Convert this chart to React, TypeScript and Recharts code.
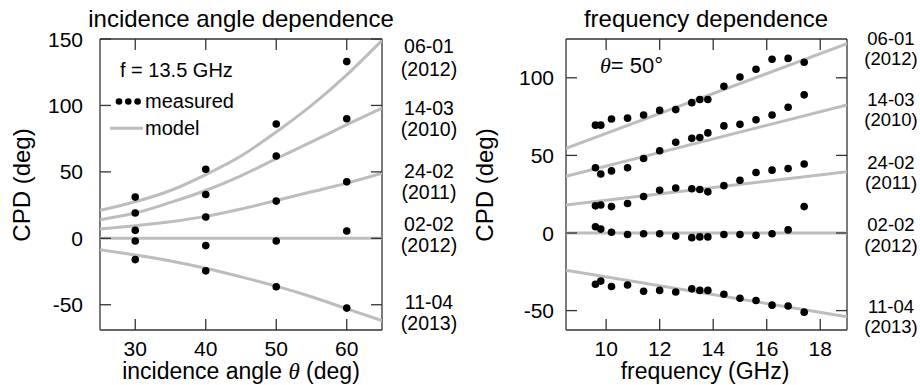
import React from "react";
import { ScatterChart, Scatter, XAxis, YAxis } from "recharts";

// ---- incidence angle dependence (f = 13.5 GHz) ----
const angles = [30, 40, 50, 60];
const angMeas0601 = [31, 52, 86, 133];
const angMeas1403 = [19, 33, 62, 90];
const angMeas2402 = [6, 16, 28, 42.5];
const angMeas0202 = [-2, -5.5, -2, 5.5];
const angMeas1104 = [-16, -24.5, -36.5, -52.5];

const modelAngles = [25, 30, 35, 40, 45, 50, 55, 60, 65];
const angModel0601 = [21, 27.5, 36, 48, 62, 80, 100, 123, 149];
const angModel1403 = [14, 19, 27, 36, 47, 60, 72.5, 85.5, 98];
const angModel2402 = [7, 9.5, 12.5, 16.5, 22, 28.5, 35, 41.5, 49];
const angModel0202 = [0, 0, 0, 0, 0, 0, 0, 0, 0];
const angModel1104 = [-8.5, -12.5, -17, -22.5, -29, -36, -44, -53, -62];

const angleTicks = [30, 40, 50, 60];
const angleCpdTicks = [-50, 0, 50, 100, 150];

// ---- frequency dependence (theta = 50) ----
const freqs = [9.6, 9.8, 10.2, 10.8, 11.4, 12.0, 12.6, 13.2, 13.5, 13.8, 14.4, 15.0, 15.6, 16.2, 16.8, 17.4];
const freqMeas0601 = [69.5, 69.5, 73.5, 74, 76, 79, 79.5, 84, 86, 86, 94.5, 100.5, 105.5, 112, 112.5, 110];
const freqMeas1403 = [42, 38, 40, 42, 48, 53, 58.5, 61, 61.5, 64.5, 69, 70, 73, 76, 81, 89];
const freqMeas2402 = [17.5, 18, 17, 19, 23.5, 27.5, 29, 28.5, 28, 26.5, 30.5, 34, 39, 40.5, 41.5, 44.5];
const freqMeas0202 = [4, 2.5, 0.5, -1, -0.5, -0.5, -2, -3, -2.5, -2.5, -1, -1, -1.5, -0.5, 2, 17];
const freqMeas1104 = [-33, -31, -34.5, -33.5, -37.5, -37, -38, -36, -37, -37, -39.5, -42, -43.5, -46.5, -47, -51];

const modelFreqs = [8.5, 19];
const freqModel0601 = [54.5, 122];
const freqModel1403 = [36.5, 82.5];
const freqModel2402 = [18, 39.5];
const freqModel0202 = [0, 0];
const freqModel1104 = [-24, -54];

const freqTicks = [10, 12, 14, 16, 18];
const freqCpdTicks = [-50, 0, 50, 100];

const dates = ["06-01", "14-03", "24-02", "02-02", "11-04"];
const years = ["(2012)", "(2010)", "(2011)", "(2012)", "(2013)"];

const FONT = "'Liberation Sans', Arial, Helvetica, sans-serif";
const FRAME = "#333333";
const GRAY = "#bdbdbd";

const pts = (xs: number[], ys: number[]) => xs.map((x, i) => ({ x, y: ys[i] }));

const Dot = (p: any) => <circle cx={p.cx} cy={p.cy} r={3.8} fill="#000" />;
const NoDot = () => <g />;

type Box = { top: number; right: number; bottom: number; left: number };

type PanelProps = {
  xDomain: [number, number];
  yDomain: [number, number];
  xTicks: number[];
  yTicks: number[];
  models: { x: number; y: number }[][];
  measured: { x: number; y: number }[][];
  plot: Box;
  yGap: number;
};

const axisLine = { stroke: FRAME, strokeWidth: 1.3 };

const W = 460;
const H = 385;
const XH = 30;
const YW = 60;
const SIDE = 1;
const TICK = 11;

const LEFT_PLOT = { top: 39, right: 78, bottom: 55, left: 100 };
const RIGHT_PLOT = { top: 39, right: 73, bottom: 55, left: 106 };
const LEFT_X: [number, number] = [25, 65];
const LEFT_Y: [number, number] = [-69, 150];
const RIGHT_X: [number, number] = [8.5, 19];
const RIGHT_Y: [number, number] = [-62.5, 125];

const Panel = ({ xDomain, yDomain, xTicks, yTicks, models, measured, plot, yGap }: PanelProps) => {
  const xCommon = { type: "number" as const, domain: xDomain, ticks: xTicks, interval: 0 as const, allowDataOverflow: true };
  const yCommon = { type: "number" as const, domain: yDomain, ticks: yTicks, interval: 0 as const, allowDataOverflow: true };
  return (
    <ScatterChart
      width={W}
      height={H}
      margin={{
        top: plot.top - SIDE,
        right: plot.right - SIDE,
        bottom: plot.bottom - XH,
        left: plot.left - YW,
      }}
    >
      <XAxis
        dataKey="x"
        {...xCommon}
        height={XH}
        tickSize={0}
        axisLine={axisLine}
        tickLine={false}
        tick={(p: any) => (
          <text x={p.x} y={p.y + 23.5} textAnchor="middle" fontSize={21} fontFamily={FONT} fill="#000">
            {p.payload.value}
          </text>
        )}
      />
      <YAxis
        dataKey="y"
        {...yCommon}
        width={YW}
        tickSize={0}
        axisLine={axisLine}
        tickLine={false}
        tick={(p: any) => (
          <text x={p.x - yGap} y={p.y + 7.5} textAnchor="end" fontSize={21} fontFamily={FONT} fill="#000">
            {p.payload.value}
          </text>
        )}
      />
      <XAxis xAxisId="top" orientation="top" {...xCommon} height={SIDE} tick={false} tickLine={false} axisLine={axisLine} />
      <YAxis yAxisId="right" orientation="right" {...yCommon} width={SIDE} tick={false} tickLine={false} axisLine={axisLine} />
      {models.map((d, i) => (
        <Scatter
          key={"m" + i}
          data={d}
          line={{ stroke: GRAY, strokeWidth: 3 }}
          lineJointType="monotoneX"
          shape={NoDot}
          isAnimationActive={false}
        />
      ))}
      {measured.map((d, i) => (
        <Scatter key={"p" + i} data={d} shape={Dot} isAnimationActive={false} />
      ))}
    </ScatterChart>
  );
};

// inward frame ticks (axis decoration only) for a panel placed at page offset ox
const FrameTicks = ({ ox, plot, xd, yd, xt, yt }: { ox: number; plot: Box; xd: [number, number]; yd: [number, number]; xt: number[]; yt: number[] }) => {
  const l = ox + plot.left;
  const r = ox + W - plot.right;
  const t = plot.top;
  const b = H - plot.bottom;
  const sx = (v: number) => l + ((v - xd[0]) / (xd[1] - xd[0])) * (r - l);
  const sy = (v: number) => b - ((v - yd[0]) / (yd[1] - yd[0])) * (b - t);
  return (
    <g stroke={FRAME} strokeWidth={1.3}>
      {xt.map((v) => (
        <g key={"x" + v}>
          <line x1={sx(v)} x2={sx(v)} y1={b} y2={b - TICK} />
          <line x1={sx(v)} x2={sx(v)} y1={t} y2={t + TICK} />
        </g>
      ))}
      {yt.map((v) => (
        <g key={"y" + v}>
          <line x1={l} x2={l + TICK} y1={sy(v)} y2={sy(v)} />
          <line x1={r} x2={r - TICK} y1={sy(v)} y2={sy(v)} />
        </g>
      ))}
    </g>
  );
};

const leftDateY = [53.3, 75.5, 114.5, 136, 178, 199, 231, 252, 309, 330];
const rightDateY = [45, 65, 105.5, 125.5, 169, 189, 231, 251.5, 313, 333];

export default function App() {
  return (
    <div style={{ position: "absolute", left: 0, top: 0, width: 920, height: 385, background: "#fff", fontFamily: FONT }}>
      <div style={{ position: "absolute", left: 0, top: 0 }}>
        <Panel
          xDomain={LEFT_X}
          yDomain={LEFT_Y}
          xTicks={angleTicks}
          yTicks={angleCpdTicks}
          plot={LEFT_PLOT}
          yGap={15}
          models={[
            pts(modelAngles, angModel0601),
            pts(modelAngles, angModel1403),
            pts(modelAngles, angModel2402),
            pts(modelAngles, angModel0202),
            pts(modelAngles, angModel1104),
          ]}
          measured={[
            pts(angles, angMeas0601),
            pts(angles, angMeas1403),
            pts(angles, angMeas2402),
            pts(angles, angMeas0202),
            pts(angles, angMeas1104),
          ]}
        />
      </div>
      <div style={{ position: "absolute", left: 460, top: 0 }}>
        <Panel
          xDomain={RIGHT_X}
          yDomain={RIGHT_Y}
          xTicks={freqTicks}
          yTicks={freqCpdTicks}
          plot={RIGHT_PLOT}
          yGap={10}
          models={[
            pts(modelFreqs, freqModel0601),
            pts(modelFreqs, freqModel1403),
            pts(modelFreqs, freqModel2402),
            pts(modelFreqs, freqModel0202),
            pts(modelFreqs, freqModel1104),
          ]}
          measured={[
            pts(freqs, freqMeas0601),
            pts(freqs, freqMeas1403),
            pts(freqs, freqMeas2402),
            pts(freqs, freqMeas0202),
            pts(freqs, freqMeas1104),
          ]}
        />
      </div>
      <svg width={920} height={385} style={{ position: "absolute", left: 0, top: 0, pointerEvents: "none" }} fontFamily={FONT}>
        <FrameTicks ox={0} plot={LEFT_PLOT} xd={LEFT_X} yd={LEFT_Y} xt={angleTicks} yt={angleCpdTicks} />
        <FrameTicks ox={460} plot={RIGHT_PLOT} xd={RIGHT_X} yd={RIGHT_Y} xt={freqTicks} yt={freqCpdTicks} />

        {/* left panel text */}
        <text x={241} y={27} fontSize={24} textAnchor="middle">incidence angle dependence</text>
        <text x={241} y={379} fontSize={23} textAnchor="middle">
          incidence angle <tspan fontStyle="italic" fontFamily="'Liberation Serif', serif">θ</tspan> (deg)
        </text>
        <text x={30} y={185} fontSize={24} textAnchor="middle" transform="rotate(-90, 30, 185)">CPD (deg)</text>
        <text x={120} y={76.5} fontSize={20}>f = 13.5 GHz</text>
        <circle cx={119} cy={101.5} r={3.3} fill="#000" />
        <circle cx={128.3} cy={101.5} r={3.3} fill="#000" />
        <circle cx={137.6} cy={101.5} r={3.3} fill="#000" />
        <text x={145} y={108.3} fontSize={20}>measured</text>
        <line x1={110} x2={143} y1={128.3} y2={128.3} stroke={GRAY} strokeWidth={3} />
        <text x={145} y={135} fontSize={20}>model</text>
        {dates.map((d, i) => (
          <g key={"ld" + i}>
            <text x={429} y={leftDateY[2 * i]} fontSize={19.5} textAnchor="middle">{d}</text>
            <text x={429} y={leftDateY[2 * i + 1]} fontSize={19.5} textAnchor="middle">{years[i]}</text>
          </g>
        ))}

        {/* right panel text */}
        <text x={706} y={27} fontSize={24} textAnchor="middle">frequency dependence</text>
        <text x={705} y={379} fontSize={23} textAnchor="middle">frequency (GHz)</text>
        <text x={493} y={185} fontSize={24} textAnchor="middle" transform="rotate(-90, 493, 185)">CPD (deg)</text>
        <text x={600} y={73.3} fontSize={22}>
          <tspan fontStyle="italic" fontFamily="'Liberation Serif', serif">θ</tspan>= 50°
        </text>
        {dates.map((d, i) => (
          <g key={"rd" + i}>
            <text x={891} y={rightDateY[2 * i]} fontSize={18.5} textAnchor="middle">{d}</text>
            <text x={891} y={rightDateY[2 * i + 1]} fontSize={18.5} textAnchor="middle">{years[i]}</text>
          </g>
        ))}
      </svg>
    </div>
  );
}
